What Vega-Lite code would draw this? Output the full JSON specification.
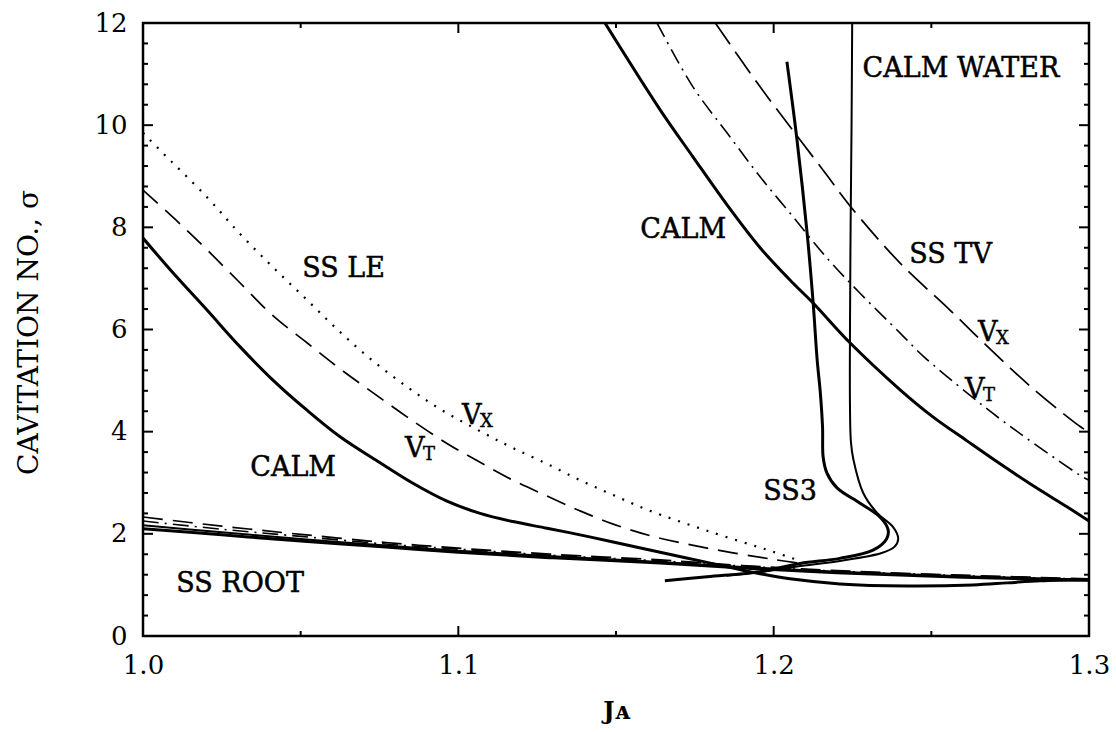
{
  "$schema": "https://vega.github.io/schema/vega-lite/v6.json",
  "width": 946,
  "height": 613,
  "autosize": {"type": "none"},
  "padding": {"left": 143, "top": 23, "right": 27, "bottom": 96},
  "background": "white",
  "config": {
    "view": {"stroke": "black", "strokeWidth": 2.5},
    "font": "DejaVu Serif",
    "axis": {"domain": false, "grid": false, "labelColor": "black", "titleColor": "black", "labelFont": "DejaVu Serif", "titleFont": "DejaVu Serif"}
  },
  "datasets": {
    "curves": [
      {"c":"le_calm","J":1.0,"s":7.79},{"c":"le_calm","J":1.0095,"s":7.11},{"c":"le_calm","J":1.0203,"s":6.38},{"c":"le_calm","J":1.0308,"s":5.66},{"c":"le_calm","J":1.0412,"s":5.01},{"c":"le_calm","J":1.052,"s":4.42},{"c":"le_calm","J":1.0625,"s":3.9},{"c":"le_calm","J":1.0752,"s":3.39},{"c":"le_calm","J":1.0856,"s":2.99},{"c":"le_calm","J":1.0964,"s":2.64},{"c":"le_calm","J":1.1069,"s":2.4},{"c":"le_calm","J":1.1173,"s":2.24},{"c":"le_calm","J":1.1281,"s":2.11},{"c":"le_calm","J":1.1386,"s":1.98},{"c":"le_calm","J":1.1491,"s":1.84},{"c":"le_calm","J":1.164,"s":1.64},{"c":"le_calm","J":1.1767,"s":1.47},{"c":"le_calm","J":1.1893,"s":1.3},{"c":"le_calm","J":1.1957,"s":1.22},{"c":"le_calm","J":1.2052,"s":1.12},{"c":"le_calm","J":1.221,"s":1.02},{"c":"le_calm","J":1.2423,"s":0.98},{"c":"le_calm","J":1.2632,"s":1.0},{"c":"le_calm","J":1.274,"s":1.04},{"c":"le_calm","J":1.2845,"s":1.08},{"c":"le_calm","J":1.3,"s":1.1},
      {"c":"le_vt","J":1.0,"s":8.73},{"c":"le_vt","J":1.0105,"s":8.14},{"c":"le_vt","J":1.0203,"s":7.56},{"c":"le_vt","J":1.0308,"s":6.91},{"c":"le_vt","J":1.0412,"s":6.27},{"c":"le_vt","J":1.052,"s":5.74},{"c":"le_vt","J":1.0625,"s":5.23},{"c":"le_vt","J":1.073,"s":4.76},{"c":"le_vt","J":1.0837,"s":4.29},{"c":"le_vt","J":1.0964,"s":3.77},{"c":"le_vt","J":1.1069,"s":3.4},{"c":"le_vt","J":1.1173,"s":3.05},{"c":"le_vt","J":1.1281,"s":2.74},{"c":"le_vt","J":1.1386,"s":2.45},{"c":"le_vt","J":1.1491,"s":2.19},{"c":"le_vt","J":1.1617,"s":1.95},{"c":"le_vt","J":1.1789,"s":1.72},{"c":"le_vt","J":1.1998,"s":1.5},{"c":"le_vt","J":1.21,"s":1.41},
      {"c":"le_vx","J":1.0,"s":9.85},{"c":"le_vx","J":1.0054,"s":9.51},{"c":"le_vx","J":1.0203,"s":8.59},{"c":"le_vx","J":1.0308,"s":7.87},{"c":"le_vx","J":1.0412,"s":7.22},{"c":"le_vx","J":1.052,"s":6.58},{"c":"le_vx","J":1.0625,"s":5.95},{"c":"le_vx","J":1.073,"s":5.38},{"c":"le_vx","J":1.0837,"s":4.88},{"c":"le_vx","J":1.094,"s":4.45},{"c":"le_vx","J":1.1078,"s":3.98},{"c":"le_vx","J":1.1173,"s":3.68},{"c":"le_vx","J":1.1281,"s":3.37},{"c":"le_vx","J":1.1386,"s":3.05},{"c":"le_vx","J":1.1491,"s":2.76},{"c":"le_vx","J":1.16,"s":2.47},{"c":"le_vx","J":1.1789,"s":2.06},{"c":"le_vx","J":1.1998,"s":1.65},{"c":"le_vx","J":1.2084,"s":1.47},
      {"c":"root_1","J":1.0,"s":2.1},{"c":"root_1","J":1.025,"s":1.98},{"c":"root_1","J":1.05,"s":1.86},{"c":"root_1","J":1.077,"s":1.74},{"c":"root_1","J":1.1,"s":1.64},{"c":"root_1","J":1.13,"s":1.53},{"c":"root_1","J":1.164,"s":1.43},{"c":"root_1","J":1.19,"s":1.33},{"c":"root_1","J":1.22,"s":1.24},{"c":"root_1","J":1.26,"s":1.15},{"c":"root_1","J":1.3,"s":1.09},
      {"c":"root_2","J":1.0,"s":2.17},{"c":"root_2","J":1.025,"s":2.03},{"c":"root_2","J":1.05,"s":1.9},{"c":"root_2","J":1.077,"s":1.77},{"c":"root_2","J":1.1,"s":1.67},{"c":"root_2","J":1.13,"s":1.56},{"c":"root_2","J":1.164,"s":1.45},{"c":"root_2","J":1.19,"s":1.35},{"c":"root_2","J":1.22,"s":1.26},{"c":"root_2","J":1.26,"s":1.17},{"c":"root_2","J":1.3,"s":1.1},
      {"c":"root_3","J":1.0,"s":2.25},{"c":"root_3","J":1.025,"s":2.09},{"c":"root_3","J":1.05,"s":1.95},{"c":"root_3","J":1.077,"s":1.8},{"c":"root_3","J":1.1,"s":1.7},{"c":"root_3","J":1.13,"s":1.58},{"c":"root_3","J":1.164,"s":1.47},{"c":"root_3","J":1.19,"s":1.37},{"c":"root_3","J":1.22,"s":1.27},{"c":"root_3","J":1.26,"s":1.18},{"c":"root_3","J":1.3,"s":1.11},
      {"c":"root_4","J":1.0,"s":2.33},{"c":"root_4","J":1.025,"s":2.15},{"c":"root_4","J":1.05,"s":1.99},{"c":"root_4","J":1.077,"s":1.83},{"c":"root_4","J":1.1,"s":1.72},{"c":"root_4","J":1.13,"s":1.6},{"c":"root_4","J":1.164,"s":1.49},{"c":"root_4","J":1.19,"s":1.38},{"c":"root_4","J":1.22,"s":1.28},{"c":"root_4","J":1.26,"s":1.19},{"c":"root_4","J":1.3,"s":1.12},
      {"c":"ss3_in","J":1.2042,"s":11.24},{"c":"ss3_in","J":1.2074,"s":9.71},{"c":"ss3_in","J":1.2106,"s":7.89},{"c":"ss3_in","J":1.2125,"s":6.54},{"c":"ss3_in","J":1.2138,"s":5.4},{"c":"ss3_in","J":1.2148,"s":4.76},{"c":"ss3_in","J":1.2155,"s":4.09},{"c":"ss3_in","J":1.2157,"s":3.5},{"c":"ss3_in","J":1.2169,"s":3.19},{"c":"ss3_in","J":1.2201,"s":2.9},{"c":"ss3_in","J":1.2274,"s":2.6},{"c":"ss3_in","J":1.2337,"s":2.33},{"c":"ss3_in","J":1.2363,"s":2.08},{"c":"ss3_in","J":1.2358,"s":1.9},{"c":"ss3_in","J":1.2315,"s":1.68},{"c":"ss3_in","J":1.221,"s":1.52},{"c":"ss3_in","J":1.2084,"s":1.42},{"c":"ss3_in","J":1.1957,"s":1.26},{"c":"ss3_in","J":1.1789,"s":1.16},{"c":"ss3_in","J":1.1655,"s":1.08},
      {"c":"ss3_out","J":1.2249,"s":12.0},{"c":"ss3_out","J":1.2247,"s":10.0},{"c":"ss3_out","J":1.2244,"s":8.0},{"c":"ss3_out","J":1.2242,"s":6.0},{"c":"ss3_out","J":1.2242,"s":4.5},{"c":"ss3_out","J":1.2245,"s":3.8},{"c":"ss3_out","J":1.2253,"s":3.45},{"c":"ss3_out","J":1.2284,"s":2.8},{"c":"ss3_out","J":1.2328,"s":2.41},{"c":"ss3_out","J":1.2379,"s":2.13},{"c":"ss3_out","J":1.2395,"s":1.9},{"c":"ss3_out","J":1.2382,"s":1.74},{"c":"ss3_out","J":1.234,"s":1.62},{"c":"ss3_out","J":1.221,"s":1.47},{"c":"ss3_out","J":1.2074,"s":1.36},{"c":"ss3_out","J":1.1957,"s":1.25},{"c":"ss3_out","J":1.185,"s":1.18},
      {"c":"tv_calm","J":1.1465,"s":12.0},{"c":"tv_calm","J":1.164,"s":10.3},{"c":"tv_calm","J":1.1744,"s":9.38},{"c":"tv_calm","J":1.1852,"s":8.44},{"c":"tv_calm","J":1.1957,"s":7.6},{"c":"tv_calm","J":1.2061,"s":6.91},{"c":"tv_calm","J":1.2125,"s":6.52},{"c":"tv_calm","J":1.2242,"s":5.74},{"c":"tv_calm","J":1.2401,"s":4.82},{"c":"tv_calm","J":1.2505,"s":4.29},{"c":"tv_calm","J":1.2613,"s":3.82},{"c":"tv_calm","J":1.2718,"s":3.37},{"c":"tv_calm","J":1.2823,"s":2.94},{"c":"tv_calm","J":1.293,"s":2.53},{"c":"tv_calm","J":1.3,"s":2.25},
      {"c":"tv_vt","J":1.163,"s":12.0},{"c":"tv_vt","J":1.1744,"s":10.75},{"c":"tv_vt","J":1.1852,"s":9.85},{"c":"tv_vt","J":1.1957,"s":8.99},{"c":"tv_vt","J":1.2061,"s":8.21},{"c":"tv_vt","J":1.2169,"s":7.4},{"c":"tv_vt","J":1.2274,"s":6.71},{"c":"tv_vt","J":1.2401,"s":5.93},{"c":"tv_vt","J":1.2474,"s":5.48},{"c":"tv_vt","J":1.2613,"s":4.76},{"c":"tv_vt","J":1.2718,"s":4.25},{"c":"tv_vt","J":1.2823,"s":3.78},{"c":"tv_vt","J":1.2981,"s":3.11},{"c":"tv_vt","J":1.3,"s":3.05},
      {"c":"tv_vx","J":1.1815,"s":12.0},{"c":"tv_vx","J":1.1957,"s":10.75},{"c":"tv_vx","J":1.2084,"s":9.71},{"c":"tv_vx","J":1.2169,"s":9.02},{"c":"tv_vx","J":1.2242,"s":8.42},{"c":"tv_vx","J":1.2401,"s":7.3},{"c":"tv_vx","J":1.2559,"s":6.38},{"c":"tv_vx","J":1.2686,"s":5.62},{"c":"tv_vx","J":1.2823,"s":4.84},{"c":"tv_vx","J":1.2972,"s":4.1},{"c":"tv_vx","J":1.3,"s":3.99}
    ],
    "labels": [
      {"t":"SS LE","J":1.0636,"s":7.18},
      {"t":"CALM","J":1.0476,"s":3.28},
      {"t":"CALM","J":1.1713,"s":7.95},
      {"t":"CALM WATER","J":1.2594,"s":11.1},
      {"t":"SS TV","J":1.2561,"s":7.46},
      {"t":"SS3","J":1.2052,"s":2.81},
      {"t":"SS ROOT","J":1.0308,"s":1.02}
    ],
    "vlabels": [
      {"t":"V","sub":"T","J":1.0831,"s":3.67},
      {"t":"V","sub":"X","J":1.1012,"s":4.3},
      {"t":"V","sub":"X","J":1.2648,"s":5.94},
      {"t":"V","sub":"T","J":1.2607,"s":4.82}
    ],
    "xmajor": [{"v":1.1},{"v":1.2}],
    "xminor": [{"v":1.05},{"v":1.15},{"v":1.25}],
    "ymajor": [{"v":2},{"v":4},{"v":6},{"v":8},{"v":10}],
    "yminor": [{"v":0.4},{"v":0.8},{"v":1.2},{"v":1.6},{"v":2.4},{"v":2.8},{"v":3.2},{"v":3.6},{"v":4.4},{"v":4.8},{"v":5.2},{"v":5.6},{"v":6.4},{"v":6.8},{"v":7.2},{"v":7.6},{"v":8.4},{"v":8.8},{"v":9.2},{"v":9.6},{"v":10.4},{"v":10.8},{"v":11.2},{"v":11.6}]
  },
  "layer": [
    {
      "data": {"name": "curves"},
      "transform": [{"filter": {"field": "c", "oneOf": ["le_calm", "tv_calm", "ss3_in", "root_1"]}}],
      "mark": {"type": "line", "color": "black", "strokeWidth": 3, "clip": true, "strokeJoin": "round", "interpolate": "catmull-rom"},
      "encoding": {
        "x": {"field": "J", "type": "quantitative", "scale": {"domain": [1.0, 1.3], "nice": false, "zero": false},
          "axis": {"orient": "bottom", "values": [1.0, 1.1, 1.2, 1.3], "format": ".1f", "ticks": false, "labelPadding": 37, "labelBaseline": "alphabetic", "labelFontSize": 26, "labelFlush": false, "labelOverlap": false,
            "title": "Jᴀ", "titleFontSize": 24, "titleFontWeight": "bold", "titleX": 473, "titleY": 82, "titleBaseline": "alphabetic", "titleAlign": "center"}},
        "y": {"field": "s", "type": "quantitative", "scale": {"domain": [0, 12], "nice": false, "zero": false},
          "axis": {"orient": "left", "values": [0, 2, 4, 6, 8, 10, 12], "ticks": false, "labelPadding": 16, "labelFontSize": 26, "labelOverlap": false,
            "title": "CAVITATION NO., σ", "titleFontSize": 28, "titleFontWeight": "normal", "titleX": -106, "titleY": 309, "titleAngle": -90, "titleBaseline": "alphabetic", "titleAlign": "center"}},
        "detail": {"field": "c"},
        "order": {"value": null}
      }
    },
    {
      "data": {"name": "curves"},
      "transform": [{"filter": {"field": "c", "oneOf": ["ss3_out", "root_2"]}}],
      "mark": {"type": "line", "color": "black", "strokeWidth": 2, "clip": true, "strokeJoin": "round", "interpolate": "catmull-rom"},
      "encoding": {
        "x": {"field": "J", "type": "quantitative"},
        "y": {"field": "s", "type": "quantitative"},
        "detail": {"field": "c"},
        "order": {"value": null}
      }
    },
    {
      "data": {"name": "curves"},
      "transform": [{"filter": {"field": "c", "oneOf": ["le_vt", "root_4"]}}],
      "mark": {"type": "line", "color": "black", "strokeWidth": 1.7, "clip": true, "strokeDash": [20, 10], "interpolate": "catmull-rom"},
      "encoding": {
        "x": {"field": "J", "type": "quantitative"},
        "y": {"field": "s", "type": "quantitative"},
        "detail": {"field": "c"},
        "order": {"value": null}
      }
    },
    {
      "data": {"name": "curves"},
      "transform": [{"filter": {"field": "c", "oneOf": ["tv_vx"]}}],
      "mark": {"type": "line", "color": "black", "strokeWidth": 1.7, "clip": true, "strokeDash": [26, 9], "interpolate": "catmull-rom"},
      "encoding": {
        "x": {"field": "J", "type": "quantitative"},
        "y": {"field": "s", "type": "quantitative"},
        "detail": {"field": "c"},
        "order": {"value": null}
      }
    },
    {
      "data": {"name": "curves"},
      "transform": [{"filter": {"field": "c", "oneOf": ["le_vx"]}}],
      "mark": {"type": "line", "color": "black", "strokeWidth": 2.2, "clip": true, "strokeDash": [2, 8], "interpolate": "catmull-rom"},
      "encoding": {
        "x": {"field": "J", "type": "quantitative"},
        "y": {"field": "s", "type": "quantitative"},
        "detail": {"field": "c"},
        "order": {"value": null}
      }
    },
    {
      "data": {"name": "curves"},
      "transform": [{"filter": {"field": "c", "oneOf": ["tv_vt", "root_3"]}}],
      "mark": {"type": "line", "color": "black", "strokeWidth": 1.6, "clip": true, "strokeDash": [16, 6, 2, 6], "interpolate": "catmull-rom"},
      "encoding": {
        "x": {"field": "J", "type": "quantitative"},
        "y": {"field": "s", "type": "quantitative"},
        "detail": {"field": "c"},
        "order": {"value": null}
      }
    },
    {
      "data": {"name": "xmajor"},
      "mark": {"type": "rule", "color": "black", "strokeWidth": 2, "y2Offset": -10},
      "encoding": {"x": {"field": "v", "type": "quantitative"}, "y": {"datum": 0, "type": "quantitative"}, "y2": {"datum": 0}}
    },
    {
      "data": {"name": "xminor"},
      "mark": {"type": "rule", "color": "black", "strokeWidth": 2, "y2Offset": -5},
      "encoding": {"x": {"field": "v", "type": "quantitative"}, "y": {"datum": 0, "type": "quantitative"}, "y2": {"datum": 0}}
    },
    {
      "data": {"name": "xmajor"},
      "mark": {"type": "rule", "color": "black", "strokeWidth": 2, "y2Offset": 10},
      "encoding": {"x": {"field": "v", "type": "quantitative"}, "y": {"datum": 12, "type": "quantitative"}, "y2": {"datum": 12}}
    },
    {
      "data": {"name": "xminor"},
      "mark": {"type": "rule", "color": "black", "strokeWidth": 2, "y2Offset": 5},
      "encoding": {"x": {"field": "v", "type": "quantitative"}, "y": {"datum": 12, "type": "quantitative"}, "y2": {"datum": 12}}
    },
    {
      "data": {"name": "ymajor"},
      "mark": {"type": "rule", "color": "black", "strokeWidth": 2, "x2Offset": 10},
      "encoding": {"y": {"field": "v", "type": "quantitative"}, "x": {"datum": 1.0, "type": "quantitative"}, "x2": {"datum": 1.0}}
    },
    {
      "data": {"name": "yminor"},
      "mark": {"type": "rule", "color": "black", "strokeWidth": 2, "x2Offset": 5},
      "encoding": {"y": {"field": "v", "type": "quantitative"}, "x": {"datum": 1.0, "type": "quantitative"}, "x2": {"datum": 1.0}}
    },
    {
      "data": {"name": "ymajor"},
      "mark": {"type": "rule", "color": "black", "strokeWidth": 2, "x2Offset": -10},
      "encoding": {"y": {"field": "v", "type": "quantitative"}, "x": {"datum": 1.3, "type": "quantitative"}, "x2": {"datum": 1.3}}
    },
    {
      "data": {"name": "yminor"},
      "mark": {"type": "rule", "color": "black", "strokeWidth": 2, "x2Offset": -5},
      "encoding": {"y": {"field": "v", "type": "quantitative"}, "x": {"datum": 1.3, "type": "quantitative"}, "x2": {"datum": 1.3}}
    },
    {
      "data": {"name": "labels"},
      "mark": {"type": "text", "font": "DejaVu Serif", "fontSize": 27, "color": "black", "stroke": "black", "strokeWidth": 0.5, "align": "center", "baseline": "middle"},
      "encoding": {
        "x": {"field": "J", "type": "quantitative"},
        "y": {"field": "s", "type": "quantitative"},
        "text": {"field": "t"}
      }
    },
    {
      "data": {"name": "vlabels"},
      "mark": {"type": "text", "font": "DejaVu Serif", "fontSize": 27, "color": "black", "stroke": "black", "strokeWidth": 0.5, "align": "left", "baseline": "middle"},
      "encoding": {
        "x": {"field": "J", "type": "quantitative"},
        "y": {"field": "s", "type": "quantitative"},
        "text": {"field": "t"}
      }
    },
    {
      "data": {"name": "vlabels"},
      "mark": {"type": "text", "font": "DejaVu Serif", "fontSize": 18, "color": "black", "stroke": "black", "strokeWidth": 0.4, "align": "left", "baseline": "middle", "dx": 18, "dy": 6},
      "encoding": {
        "x": {"field": "J", "type": "quantitative"},
        "y": {"field": "s", "type": "quantitative"},
        "text": {"field": "sub"}
      }
    }
  ]
}
